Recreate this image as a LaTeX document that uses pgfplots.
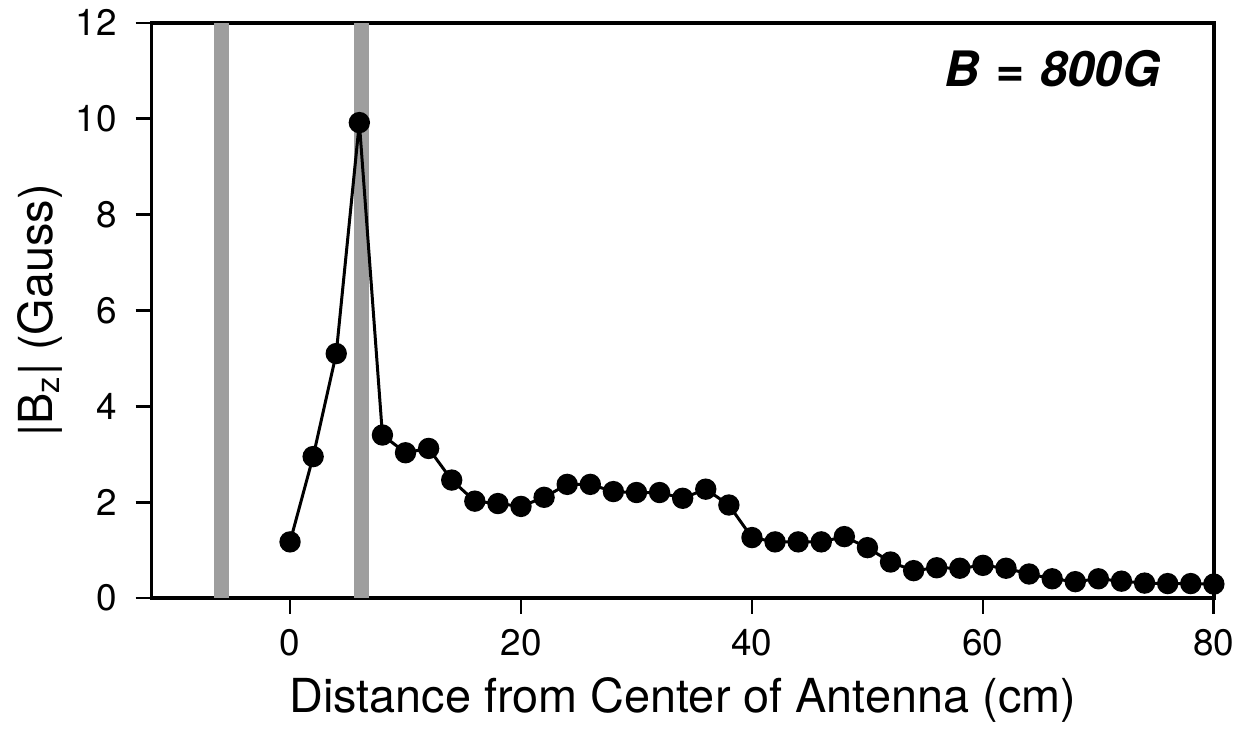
\documentclass[border=0pt]{standalone}
\usepackage{fontspec}
\setmainfont{TeX Gyre Heros}
\usepackage{pgfplots}
\pgfplotsset{compat=1.18}
\begin{document}
\begin{tikzpicture}
\begin{axis}[
  scale only axis,
  width=533pt, height=288.5pt,
  xmin=-12, xmax=80, ymin=0, ymax=12,
  xtick={0,20,40,60,80}, ytick={0,2,4,6,8,10,12},
  tick align=outside, major tick length=8pt,
  xtick pos=left, ytick pos=left,
  axis line style={line width=1.7pt},
  every tick/.style={line width=1.4pt, black},
  /pgf/number format/assume math mode=true,
  tick label style={font=\fontsize{18.5}{20}\selectfont},
  yticklabel style={xshift=-6pt},
  xticklabel style={yshift=-4pt},
  xlabel={Distance from Center of Antenna (cm)},
  ylabel={|B\textsubscript{z}| (Gauss)},
  label style={font=\fontsize{23.5}{26}\selectfont},
  ylabel style={at={(rel axis cs:0,0.5)}, anchor=center, yshift=56pt},
  xlabel style={at={(rel axis cs:0.5,0)}, anchor=center, yshift=-51pt},
  clip=false,
]
\addplot[draw=none, fill=black!38] coordinates {(-6.6,0) (-5.3,0) (-5.3,12) (-6.6,12)} -- cycle;
\addplot[draw=none, fill=black!38] coordinates {(5.5,0) (6.8,0) (6.8,12) (5.5,12)} -- cycle;
\addplot[black, line width=1.5pt, mark=*, mark size=4.6pt, mark options={fill=black}] coordinates {
(0,1.17) (2,2.95) (4,5.1) (6,9.92) (8,3.4) (10,3.03) (12,3.12) (14,2.46) (16,2.02) (18,1.97) (20,1.91)
(22,2.1) (24,2.37) (26,2.37) (28,2.22) (30,2.2) (32,2.2) (34,2.08) (36,2.27) (38,1.94) (40,1.26)
(42,1.17) (44,1.17) (46,1.17) (48,1.28) (50,1.05) (52,0.75) (54,0.57) (56,0.63) (58,0.62) (60,0.68)
(62,0.62) (64,0.5) (66,0.4) (68,0.34) (70,0.4) (72,0.35) (74,0.31) (76,0.3) (78,0.3) (80,0.29)
};
\node[font=\fontsize{24.5}{26}\selectfont\bfseries\itshape] at (axis cs:66,11.05) {B\,\,=\,\,800G};
\path (rel axis cs:0,0) ++(-76pt,-65pt) coordinate (bbsw);
\path (rel axis cs:1,1) ++(11.5pt,11.5pt) coordinate (bbne);
\end{axis}
\useasboundingbox (bbsw) rectangle (bbne);
\end{tikzpicture}
\end{document}
